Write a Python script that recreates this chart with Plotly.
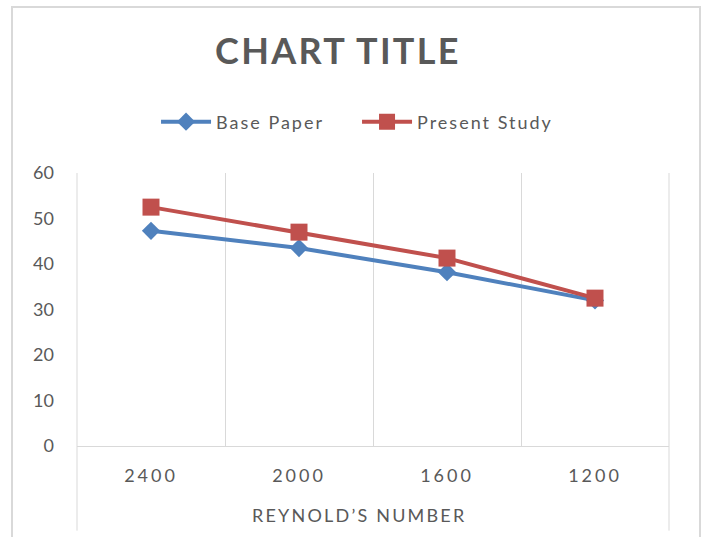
import plotly.graph_objects as go

categories = ["2400", "2000", "1600", "1200"]
base_paper = [47.3, 43.5, 38.2, 32.0]
present_study = [52.5, 47.0, 41.3, 32.5]
y_ticks = [0, 10, 20, 30, 40, 50, 60]

TXT = "#595959"
GRID = "#d9d9d9"
FONT = "Lato"

fig = go.Figure()
fig.add_trace(go.Scatter(
    x=categories, y=base_paper, name="Base Paper", mode="lines+markers",
    line=dict(color="#4F81BD", width=4),
    marker=dict(symbol="diamond", size=14, color="#4F81BD"),
))
fig.add_trace(go.Scatter(
    x=categories, y=present_study, name="Present Study", mode="lines+markers",
    line=dict(color="#C0504D", width=4),
    marker=dict(symbol="square", size=17, color="#C0504D"),
))

ls = lambda s, px: f"<span style='letter-spacing:{px}px'>{s}</span>"

fig.update_layout(
    width=704, height=537,
    margin=dict(l=77, r=35, t=173, b=91),
    paper_bgcolor="white", plot_bgcolor="white",
    font=dict(family=FONT, color=TXT, size=18),
    title=dict(text="<b>" + ls("CHART TITLE", 2.3) + "</b>", x=0.48, xref="container",
               xanchor="center", y=1 - 51 / 537, yref="container", yanchor="middle",
               font=dict(size=36, color=TXT, family=FONT)),
    legend=dict(orientation="h", x=0.1335, xanchor="left", y=1.187, yanchor="middle",
                font=dict(size=18, color=TXT), itemwidth=50, entrywidth=136,
                entrywidthmode="pixels", traceorder="normal",
                bgcolor="rgba(0,0,0,0)"),
    showlegend=True,
)
fig.update_traces(selector=dict(name="Base Paper"), name=ls("Base Paper", 2))
fig.update_traces(selector=dict(name="Present Study"), name=ls("Present Study", 2))

fig.update_xaxes(
    type="category", range=[-0.5, 3.5], tickson="boundaries",
    tickvals=categories, ticktext=[ls(c, 3) for c in categories],
    showgrid=True, gridcolor=GRID, gridwidth=1,
    showline=True, linecolor=GRID, linewidth=1, ticks="",
    ticklabelstandoff=13, tickfont=dict(size=18, color=TXT),
    zeroline=False,
)
fig.update_yaxes(
    range=[0, 60], tickvals=y_ticks, showgrid=False, showline=False, zeroline=False,
    ticks="", ticklabelstandoff=22, tickfont=dict(size=18, color=TXT),
)
# x-axis title
fig.add_annotation(text=ls("REYNOLD’S NUMBER", 2.2), xref="x domain", yref="paper",
                   x=(359 - 77) / 592, y=(446 - 515) / 273, xanchor="center", yanchor="middle",
                   showarrow=False, font=dict(size=18, color=TXT, family=FONT))
# extended left/right plot-area edges
for xd in (0, 1):
    fig.add_shape(type="line", xref="x domain", yref="y domain", x0=xd, x1=xd,
                  y0=-0.31, y1=1, line=dict(color=GRID, width=1))
# outer chart border
fig.add_shape(type="rect", xref="paper", yref="paper",
              x0=(12 - 77) / 592, x1=(700 - 77) / 592,
              y0=-0.5, y1=(446 - 7) / 273,
              line=dict(color=GRID, width=2), fillcolor="rgba(0,0,0,0)", layer="below")

fig.write_html("out.html")
